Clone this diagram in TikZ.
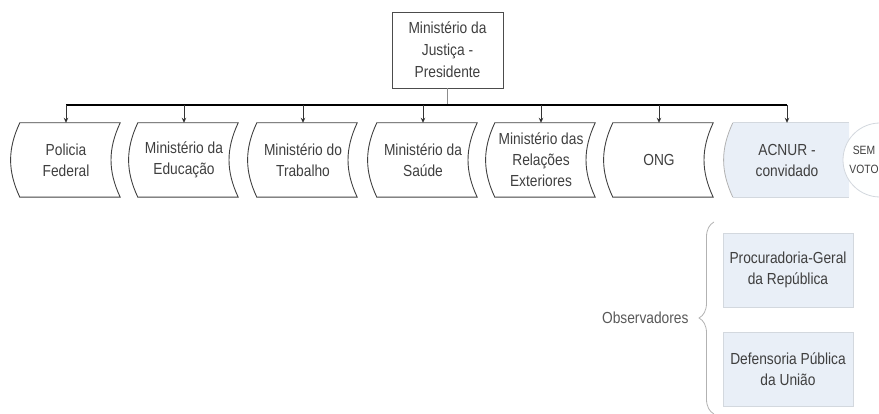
\documentclass[tikz,border=0pt]{standalone}
\usepackage{fontspec}
\setmainfont{Liberation Sans}[FakeStretch=0.86]
\usepackage{xcolor}
\usetikzlibrary{arrows.meta}
\usetikzlibrary{positioning}
\usetikzlibrary{calc}
\usetikzlibrary{backgrounds}
\usetikzlibrary{decorations.pathreplacing}

\definecolor{txtgray}{HTML}{3F3F3F}
\definecolor{paleblue}{HTML}{E9EFF7}
\definecolor{edgegray}{HTML}{D3D8DE}

\begin{document}
\begin{tikzpicture}[x=1pt, y=-1pt,
	every node/.style={text=txtgray, align=center, font=\fontsize{16}{21}\selectfont},
	member/.style={minimum width=108pt, minimum height=74pt, inner sep=0pt},
	observer/.style={minimum width=130pt, minimum height=74pt, inner sep=0pt, fill=paleblue, draw=edgegray},
	shapeline/.style={draw=black!75, line width=0.9pt},
	feed/.style={-{Stealth[length=5pt, width=4.5pt]}, line width=0.9pt, black!80}]
	
	\useasboundingbox (0,0) rectangle (879,414);
	
	% head
	\node[draw=black!70, line width=0.8pt, minimum width=111pt, minimum height=76pt, inner sep=0pt, font=\fontsize{16}{22}\selectfont] (mj) at (447.5,50) {Ministério da\\Justiça -\\Presidente};
	
	% members
	\node[member] (pf) at (66,160) {Policia\\Federal};
	\node[member] (me) at (184,160) {Ministério da\\Educação};
	\node[member] (mt) at (303,160) {Ministério do\\Trabalho};
	\node[member] (ms) at (423,160) {Ministério da\\Saúde};
	\node[member] (mre) at (541,160) {Ministério das\\Relações\\Exteriores};
	\node[member] (ong) at (659,160) {ONG};
	\node[member, minimum width=124pt] (acnur) at (787,160) {ACNUR -\\convidado};
	\node[font=\fontsize{12}{19}\selectfont] (sv) at (864,160) {SEM\\VOTO};
	
	% shapes of the members
	\foreach \n in {pf, me, mt, ms, mre, ong}
		\draw[shapeline] ([xshift=8pt]\n.north west) to[bend right=25] ([xshift=8pt]\n.south west) -- (\n.south east) to[bend left=25] (\n.north east) -- cycle;
	\begin{scope}[on background layer]
		\fill[paleblue] ([xshift=8pt]acnur.north west) to[bend right=25] ([xshift=8pt]acnur.south west) -- (acnur.south east) -- (acnur.north east) -- cycle;
		\draw[black!30, line width=0.8pt] ([xshift=8pt]acnur.north west) to[bend right=25] ([xshift=8pt]acnur.south west);
		\draw[edgegray, line width=0.6pt] ([xshift=8pt]acnur.south west) -- (acnur.south east);
		\draw[edgegray, line width=0.6pt] ([xshift=8pt]acnur.north west) -- (acnur.north east);
		% sem voto
		\draw[edgegray, fill=white!97!paleblue, line width=0.8pt] ([xshift=16pt]sv.center) circle (37pt);
	\end{scope}
	
	% for mj
	\coordinate (bar) at (447.5,105);
	\draw[black!45, line width=0.8pt] (mj.south) -- (bar);
	\draw[line width=1.1pt] (pf.north |- bar) -- (acnur.north |- bar);
	\foreach \n in {pf, me, mt, ms, mre, ong, acnur}
		\draw[feed] (\n.north |- bar) -- (\n.north);
	
	% observers
	\node[observer] (pgr) at (788,270) {Procuradoria-Geral\\da República};
	\node[observer] (dpu) at (788,369) {Defensoria Pública\\da União};
	\node[anchor=east, text=black!65] (obs) at (692,318) {Observadores};
	\coordinate (bb) at (714,414);
	\coordinate (bt) at (714,222);
	\draw[black!30, line width=0.8pt, decorate, decoration={brace, amplitude=15pt}] (bb) -- (bt);
\end{tikzpicture}
\end{document}
